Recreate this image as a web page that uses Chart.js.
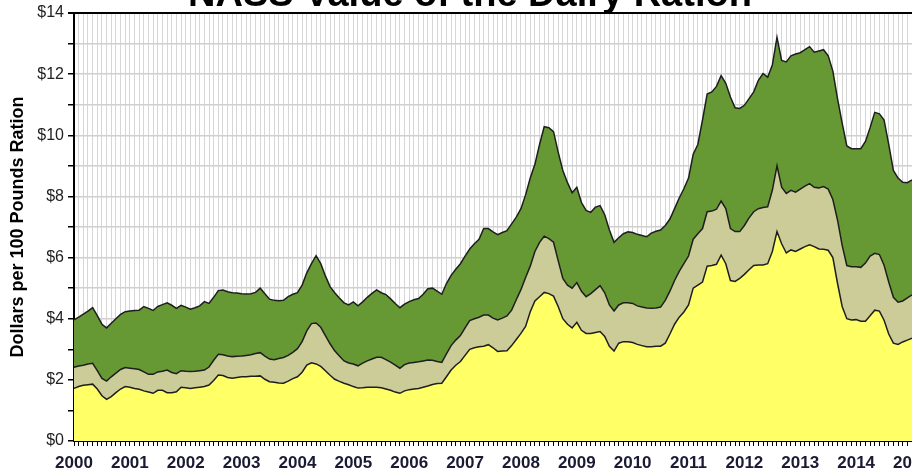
<!DOCTYPE html>
<html>
<head>
<meta charset="utf-8">
<script src="https://cdn.jsdelivr.net/npm/chart.js@4/dist/chart.umd.min.js"></script>
<style>
  body { margin: 0; background: #fff; }
  #wrap { width: 912px; height: 473px; position: relative; }
</style>
</head>
<body>
<div id="wrap"><canvas id="rationChart" width="912" height="473"></canvas></div>
<script>
'use strict'

// NASS value of the dairy ration, monthly, Jan 2000 .. Jan 2015
// three stacked boundaries (dollars per 100 lb ration)
let years = [2000,2001,2002,2003,2004,2005,2006,2007,2008,2009,2010,2011,2012,2013,2014,2015];
let yTicks = [0,2,4,6,8,10,12,14];

let lowLine = [
  1.72,1.78,1.82,1.84,1.86,1.70,1.48,1.36,1.45,1.58,1.70,1.78, // 2000
  1.76,1.72,1.69,1.64,1.60,1.56,1.66,1.66,1.58,1.58,1.61,1.76, // 2001
  1.74,1.72,1.74,1.76,1.78,1.83,1.98,2.16,2.14,2.08,2.05,2.08, // 2002
  2.10,2.10,2.12,2.12,2.13,2.02,1.94,1.92,1.90,1.89,1.96,2.04, // 2003
  2.10,2.25,2.48,2.56,2.52,2.44,2.30,2.15,2.02,1.95,1.89,1.84, // 2004
  1.78,1.73,1.74,1.76,1.76,1.76,1.74,1.70,1.66,1.60,1.56,1.64, // 2005
  1.68,1.70,1.72,1.76,1.80,1.85,1.88,1.89,2.10,2.32,2.48,2.60, // 2006
  2.80,3.00,3.05,3.08,3.10,3.15,3.05,2.93,2.94,2.95,3.12,3.32, // 2007
  3.52,3.75,4.23,4.58,4.72,4.86,4.82,4.74,4.40,4.00,3.82,3.70, // 2008
  3.88,3.62,3.52,3.52,3.55,3.58,3.42,3.10,2.94,3.20,3.25,3.25, // 2009
  3.22,3.16,3.12,3.08,3.08,3.10,3.10,3.20,3.50,3.82,4.05,4.22, // 2010
  4.45,5.00,5.10,5.20,5.72,5.74,5.78,6.08,5.80,5.25,5.22,5.32, // 2011
  5.45,5.60,5.74,5.76,5.76,5.80,6.20,6.85,6.45,6.15,6.25,6.20, // 2012
  6.28,6.36,6.42,6.36,6.28,6.27,6.24,6.00,5.16,4.40,4.00,3.96, // 2013
  3.97,3.92,3.92,4.10,4.28,4.25,3.95,3.50,3.20,3.16,3.24,3.30, // 2014
  3.36
];

let midLine = [
  2.41,2.45,2.48,2.52,2.54,2.30,2.05,1.96,2.10,2.22,2.34,2.40,
  2.38,2.36,2.34,2.26,2.18,2.18,2.26,2.28,2.32,2.24,2.20,2.30,
  2.28,2.27,2.28,2.30,2.32,2.42,2.64,2.84,2.82,2.78,2.76,2.77,
  2.78,2.80,2.82,2.86,2.89,2.78,2.68,2.66,2.70,2.73,2.80,2.90,
  3.02,3.25,3.60,3.84,3.86,3.72,3.45,3.18,2.95,2.78,2.62,2.55,
  2.52,2.46,2.55,2.62,2.68,2.74,2.74,2.66,2.58,2.48,2.38,2.50,
  2.55,2.57,2.59,2.62,2.65,2.64,2.60,2.57,2.85,3.12,3.30,3.45,
  3.70,3.94,4.00,4.05,4.12,4.12,4.02,3.96,4.02,4.09,4.28,4.62,
  4.95,5.35,5.72,6.20,6.50,6.70,6.62,6.50,5.90,5.32,5.10,5.00,
  5.18,4.90,4.72,4.82,4.95,5.08,4.85,4.45,4.25,4.45,4.52,4.52,
  4.50,4.42,4.38,4.35,4.34,4.35,4.38,4.60,4.90,5.25,5.55,5.80,
  6.05,6.60,6.78,6.95,7.50,7.52,7.58,7.85,7.60,6.95,6.85,6.85,
  7.05,7.30,7.50,7.60,7.64,7.66,8.20,9.00,8.30,8.10,8.20,8.14,
  8.24,8.34,8.42,8.30,8.28,8.32,8.24,7.90,7.23,6.40,5.74,5.70,
  5.70,5.68,5.82,6.05,6.14,6.10,5.75,5.20,4.70,4.54,4.58,4.68,
  4.78
];

let topLine = [
  3.96,4.05,4.15,4.25,4.36,4.10,3.82,3.70,3.85,4.00,4.14,4.23,
  4.25,4.27,4.28,4.40,4.34,4.27,4.40,4.46,4.52,4.44,4.34,4.44,
  4.38,4.31,4.36,4.42,4.56,4.50,4.70,4.92,4.94,4.88,4.85,4.84,
  4.82,4.81,4.82,4.86,5.00,4.82,4.64,4.60,4.59,4.60,4.72,4.80,
  4.85,5.10,5.50,5.80,6.06,5.80,5.40,5.05,4.85,4.68,4.52,4.45,
  4.55,4.42,4.55,4.70,4.83,4.94,4.85,4.79,4.65,4.50,4.36,4.48,
  4.56,4.62,4.66,4.80,4.98,5.00,4.90,4.80,5.15,5.42,5.62,5.80,
  6.05,6.28,6.45,6.60,6.95,6.95,6.84,6.75,6.82,6.88,7.10,7.32,
  7.60,8.05,8.60,9.05,9.70,10.28,10.25,10.12,9.45,8.85,8.45,8.12,
  8.30,7.80,7.54,7.48,7.65,7.70,7.40,6.90,6.50,6.65,6.78,6.84,
  6.82,6.76,6.72,6.68,6.80,6.86,6.90,7.05,7.26,7.60,7.95,8.25,
  8.60,9.38,9.70,10.50,11.35,11.42,11.60,11.95,11.70,11.25,10.90,10.88,
  10.98,11.20,11.42,11.80,12.02,11.90,12.30,13.20,12.45,12.40,12.60,12.66,
  12.70,12.80,12.90,12.72,12.76,12.80,12.60,12.10,11.20,10.40,9.65,9.56,
  9.56,9.56,9.80,10.25,10.75,10.70,10.50,9.70,8.85,8.60,8.46,8.45,
  8.54
];

// month labels built from the years list
let monthLabels = [];
for (let i = 0; i < topLine.length; i++) {
  let yr = years[Math.floor(i / 12)];
  monthLabels.push(yr + '-' + String(i % 12 + 1).padStart(2, '0'));
}

let titleText = 'NASS Value of the Dairy Ration';

// the big title sits partly above the canvas in the picture
let titlePlugin = {
  id: 'cutTitle',
  afterDraw(chart) {
    let ctx = chart.ctx;
    ctx.save();
    ctx.font = 'bold 38px "Liberation Sans", Arial, sans-serif';
    ctx.fillStyle = '#000';
    ctx.textAlign = 'center';
    ctx.textBaseline = 'alphabetic';
    ctx.fillText(titleText, 470, 6);
    ctx.restore();
  }
};

let lineCol = '#1e1e1e';

let ctx = document.getElementById('rationChart').getContext('2d');
let myChart = new Chart(ctx, {
  type: 'line',
  data: {
    labels: monthLabels,
    datasets: [{
      label: 'low',
      data: lowLine,
      backgroundColor: '#ffff66',
      borderColor: lineCol,
      borderWidth: 1.5,
      fill: 'origin'
    }, {
      label: 'mid',
      data: midLine,
      backgroundColor: '#cccc99',
      borderColor: lineCol,
      borderWidth: 1.5,
      fill: '-1'
    }, {
      label: 'top',
      data: topLine,
      backgroundColor: '#669933',
      borderColor: lineCol,
      borderWidth: 1.5,
      fill: '-1'
    }]
  },
  options: {
    responsive: false,
    animation: false,
    elements: { point: { radius: 0 }, line: { tension: 0 } },
    layout: { padding: { top: 13, right: 0, bottom: 0, left: 0 } },
    plugins: {
      legend: { display: false },
      tooltip: { enabled: false },
      title: { display: false }
    },
    scales: {
      x: {
        type: 'category',
        offset: false,
        grid: { color: '#d6d6d6', lineWidth: 1, offset: false, tickLength: 5, tickColor: '#000' },
        border: { color: '#000', width: 2 },
        ticks: {
          autoSkip: false,
          maxRotation: 0,
          minRotation: 0,
          padding: 7,
          color: '#1a1a33',
          font: { family: '"Liberation Sans", Arial, sans-serif', size: 17, weight: 'bold' },
          callback: function (val, i) {
            return i % 12 === 0 ? String(years[i / 12]) : '';
          }
        },
        afterFit: function (scale) {
          scale.height = 32;
          scale.paddingLeft = 0;
          scale.paddingRight = 0;
        }
      },
      y: {
        min: 0,
        max: 14,
        grid: {
          color: function (c) { return c.tick && c.tick.value === 14 ? '#000' : '#d0d0d0'; },
          lineWidth: function (c) { return c.tick && c.tick.value === 14 ? 2 : 1.5; },
          tickLength: 6,
          tickColor: '#000'
        },
        border: { color: '#000', width: 2 },
        ticks: {
          stepSize: 1,
          padding: 4,
          color: '#222',
          font: { family: '"Liberation Sans", Arial, sans-serif', size: 16 },
          callback: function (v) {
            return yTicks.includes(v) ? '$' + v : '';
          }
        },
        title: {
          display: true,
          text: 'Dollars per 100 Pounds Ration',
          color: '#000',
          padding: { top: 7, bottom: 0 },
          font: { family: '"Liberation Sans", Arial, sans-serif', size: 18, weight: 'bold' }
        },
        afterFit: function (scale) {
          scale.width = 74;
          scale.paddingTop = 0;
          scale.paddingBottom = 0;
        }
      }
    }
  },
  plugins: [titlePlugin]
});
</script>
</body>
</html>
